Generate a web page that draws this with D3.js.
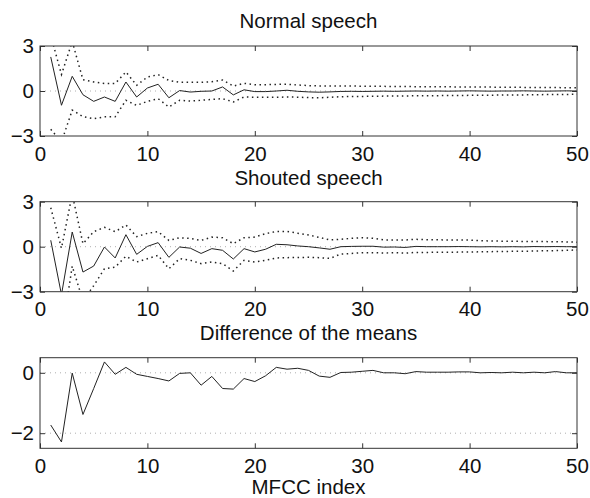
<!DOCTYPE html>
<html>
<head>
<meta charset="utf-8">
<script src="https://cdn.jsdelivr.net/npm/d3@7/dist/d3.min.js"></script>
<style>
  html, body { margin: 0; padding: 0; background: #fff; }
  svg { display: block; }
  text { font-family: "Liberation Sans", Arial, Helvetica, sans-serif; fill: #111; }
</style>
</head>
<body>
<svg id="chart" width="590" height="498"></svg>
<script>
// ---------------- DATA ----------------
const mfccIndex = d3.range(1, 51);

const normalMean = [2.27, -0.95, 0.98, -0.25, -0.69, -0.4, -0.69, 0.6, -0.4, 0.2,
  0.45, -0.45, 0.03, -0.07, -0.02, 0, 0.27, -0.26, 0.08, -0.04,
  -0.04, 0, 0.05, -0.02, -0.06, -0.08, -0.06, -0.03, -0.02, -0.03,
  -0.02, -0.01, -0.02, -0.01, 0, -0.01, 0, -0.01, 0, 0.01,
  0, -0.01, 0, 0, 0.01, 0, -0.01, 0, 0.01, 0];
const normalUpper = [3.7, 1.1, 3.3, 0.75, 0.6, 0.5, 0.5, 1.27, 0.38, 0.93,
  1.09, 0.7, 0.58, 0.58, 0.58, 0.62, 0.73, 0.33, 0.51, 0.42,
  0.42, 0.44, 0.45, 0.4, 0.36, 0.34, 0.34, 0.33, 0.33, 0.32,
  0.31, 0.31, 0.3, 0.3, 0.29, 0.29, 0.28, 0.28, 0.27, 0.27,
  0.26, 0.26, 0.25, 0.25, 0.24, 0.24, 0.23, 0.23, 0.22, 0.22];
const normalLower = [-2.55, -3.4, -1.27, -1.71, -1.85, -1.72, -1.72, -0.62, -0.96, -0.69,
  -0.51, -1.07, -0.62, -0.67, -0.62, -0.56, -0.51, -0.73, -0.4, -0.42,
  -0.42, -0.42, -0.4, -0.41, -0.44, -0.45, -0.42, -0.38, -0.36, -0.36,
  -0.35, -0.34, -0.34, -0.33, -0.32, -0.32, -0.31, -0.3, -0.3, -0.29,
  -0.28, -0.28, -0.27, -0.26, -0.26, -0.25, -0.24, -0.24, -0.23, -0.22];

const shoutedMean = [0.43, -3.2, 0.98, -1.69, -1.29, -0.02, -0.75, 0.8, -0.51, 0.02,
  0.27, -0.71, -0.02, -0.1, -0.45, -0.13, -0.24, -0.82, -0.13, -0.35,
  -0.17, 0.16, 0.13, 0.05, 0, -0.08, -0.17, 0, 0.02, 0.03,
  0.03, -0.03, -0.02, -0.05, 0.02, 0, 0, 0, 0.01, 0,
  -0.01, 0, -0.01, 0, -0.01, 0.01, 0, 0.01, 0, 0];
const shoutedUpper = [2.6, -0.1, 3.5, 0.2, 1.0, 1.29, 1.0, 1.45, 0.67, 0.89,
  1.0, 0.42, 0.6, 0.55, 0.42, 0.64, 0.6, 0.2, 0.6, 0.64,
  0.87, 1.02, 1.02, 0.9, 0.78, 0.62, 0.45, 0.49, 0.56, 0.6,
  0.56, 0.45, 0.45, 0.45, 0.49, 0.47, 0.46, 0.45, 0.45, 0.44,
  0.4, 0.38, 0.37, 0.36, 0.35, 0.35, 0.34, 0.33, 0.32, 0.3];
const shoutedLower = [-3.4, -6.0, -1.3, -3.6, -2.6, -1.47, -1.36, -0.64, -1.02, -0.8,
  -0.58, -1.47, -0.8, -0.91, -1.13, -1.02, -1.13, -1.62, -0.91, -1.02,
  -0.91, -0.75, -0.73, -0.72, -0.71, -0.73, -0.78, -0.49, -0.45, -0.4,
  -0.4, -0.42, -0.4, -0.43, -0.38, -0.38, -0.37, -0.37, -0.36, -0.36,
  -0.34, -0.33, -0.32, -0.31, -0.3, -0.29, -0.27, -0.26, -0.24, -0.22];

const meanDifference = [-1.73, -2.29, -0.01, -1.38, -0.52, 0.36, -0.05, 0.18, -0.05, -0.12,
  -0.19, -0.27, -0.02, 0, -0.41, -0.12, -0.52, -0.54, -0.19, -0.29,
  -0.1, 0.18, 0.12, 0.15, 0.08, -0.11, -0.15, 0.01, 0.02, 0.05,
  0.08, 0, 0, -0.03, 0.04, 0.02, 0.02, 0.02, 0.03, 0.03,
  0, 0.01, 0, 0.02, 0, 0.02, 0, 0.04, 0, 0];

const xTicks = [0, 10, 20, 30, 40, 50];
const yTicksSpeech = [-3, 0, 3];
const yTicksDiff = [-2, 0];
const titles = ["Normal speech", "Shouted speech", "Difference of the means"];
const xLabel = "MFCC index";

// ---------------- LAYOUT ----------------
const svg = d3.select("#chart");
const left = 40, right = 577;
const FS = 20.5;
const x = d3.scaleLinear().domain([0, 50]).range([left, right]);

const panels = [
  { title: titles[0], top: 46, bottom: 136, domain: [-3, 3], yt: yTicksSpeech, grid: [0],
    mean: normalMean, upper: normalUpper, lower: normalLower, titleY: 28 },
  { title: titles[1], top: 201.7, bottom: 291.7, domain: [-3, 3], yt: yTicksSpeech, grid: [0],
    mean: shoutedMean, upper: shoutedUpper, lower: shoutedLower, titleY: 185 },
  { title: titles[2], top: 357.7, bottom: 448.3, domain: [-2.5, 0.5], yt: yTicksDiff, grid: [0, -2],
    mean: meanDifference, titleY: 340 }
];

const fmt = d => d < 0 ? "\u2212" + Math.abs(d) : String(d);

panels.forEach((p, i) => {
  const y = d3.scaleLinear().domain(p.domain).range([p.bottom, p.top]);
  const g = svg.append("g");

  const cid = "clip" + i;
  svg.append("clipPath").attr("id", cid).append("rect")
    .attr("x", left).attr("y", p.top).attr("width", right - left).attr("height", p.bottom - p.top);

  g.selectAll(".grid").data(p.grid).enter().append("line")
    .attr("x1", left).attr("x2", right)
    .attr("y1", d => y(d)).attr("y2", d => y(d))
    .attr("stroke", "#999").attr("stroke-width", 0.8).attr("stroke-dasharray", "1,4");

  const plot = g.append("g").attr("clip-path", `url(#${cid})`);
  const line = vals => d3.line().x((d, k) => x(mfccIndex[k])).y(d => y(d))(vals);

  if (p.upper) {
    [p.upper, p.lower].forEach(vals => {
      plot.append("path").attr("d", line(vals))
        .attr("fill", "none").attr("stroke", "#222").attr("stroke-width", 1.5)
        .attr("stroke-dasharray", "1.5,3.5");
    });
  }
  plot.append("path").attr("d", line(p.mean))
    .attr("fill", "none").attr("stroke", "#222").attr("stroke-width", 1);

  const axB = d3.axisBottom(x).tickValues(xTicks).tickSize(-5).tickPadding(10).tickFormat(d3.format("d"));
  const axT = d3.axisTop(x).tickValues(xTicks).tickSize(-5).tickFormat("");
  const axL = d3.axisLeft(y).tickValues(p.yt).tickSize(-5).tickPadding(6).tickFormat(fmt);
  const axR = d3.axisRight(y).tickValues(p.yt).tickSize(-5).tickFormat("");

  const style = sel => {
    sel.select(".domain").remove();
    sel.selectAll(".tick line").attr("stroke", "#333");
    sel.selectAll("text").attr("font-size", FS).attr("fill", "#111")
      .attr("font-family", '"Liberation Sans", Arial, Helvetica, sans-serif');
  };
  g.append("g").attr("transform", `translate(0,${p.bottom})`).call(axB).call(style);
  g.append("g").attr("transform", `translate(0,${p.top})`).call(axT).call(style);
  g.append("g").attr("transform", `translate(${left},0)`).call(axL).call(style);
  g.append("g").attr("transform", `translate(${right},0)`).call(axR).call(style);

  g.append("rect").attr("x", left).attr("y", p.top)
    .attr("width", right - left).attr("height", p.bottom - p.top)
    .attr("fill", "none").attr("stroke", "#333").attr("stroke-width", 1);

  svg.append("text").attr("x", (left + right) / 2).attr("y", p.titleY)
    .attr("text-anchor", "middle").attr("font-size", FS).text(p.title);
});

svg.append("text").attr("x", (left + right) / 2).attr("y", 494)
  .attr("text-anchor", "middle").attr("font-size", FS).text(xLabel);
</script>
</body>
</html>
